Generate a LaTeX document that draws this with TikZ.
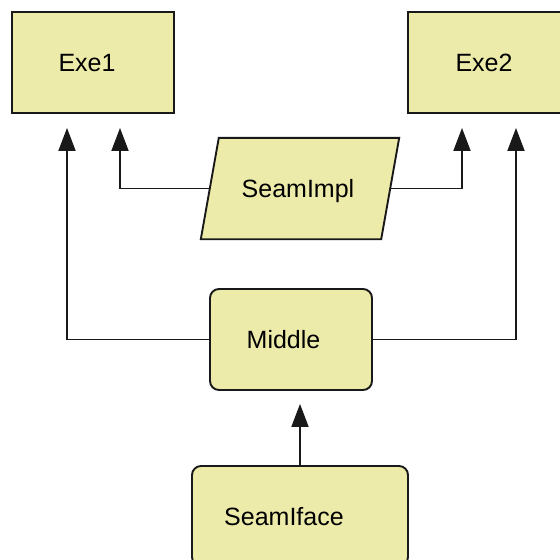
\documentclass[tikz,border=0pt]{standalone}
\usepackage{fontspec}
\setmainfont{Liberation Sans}
\usetikzlibrary{arrows.meta,backgrounds}
\definecolor{boxfill}{RGB}{237,235,170}
\definecolor{boxline}{RGB}{25,25,25}
\tikzset{
  txt/.style={inner sep=0pt, font=\fontsize{25}{29}\selectfont, text height=18pt, text depth=0pt},
  box/.style={txt, draw=boxline, fill=boxfill, line width=1.9pt},
  rbox/.style={box, rounded corners=9pt},
  parashape/.style={draw=boxline, fill=boxfill, line width=1.9pt, line join=miter},
  arr/.style={line width=1.9pt, draw=boxline, -{Triangle[length=23pt,width=17pt]}}
}
\begin{document}
\begin{tikzpicture}[x=1pt,y=-1pt]
\useasboundingbox (0,0) rectangle (560,560);
\node[box, minimum width=162pt, minimum height=101pt] (exe1) at (93,62.5) {Exe1\hspace*{12pt}};
\node[box, minimum width=162pt, minimum height=101pt] (exe2) at (489,62.5) {Exe2\hspace*{10pt}};
\node[txt, minimum width=180pt, minimum height=101pt] (impl) at (300,188.5) {SeamImpl\hspace*{4pt}};
\begin{scope}[on background layer]
\draw[parashape] ([xshift=-9pt]impl.south west) -- ([xshift=9pt]impl.north west)
  -- ([xshift=9pt]impl.north east) -- ([xshift=-9pt]impl.south east) -- cycle;
\end{scope}
\node[rbox, minimum width=162pt, minimum height=101pt] (mid) at (291,339.5) {Middle\hspace*{15pt}};
\node[rbox, minimum width=216pt, minimum height=100pt] (iface) at (300,516) {SeamIface\hspace*{32pt}};
\draw[arr, shorten >=14pt] (impl.west) -| ([xshift=27pt]exe1.south);
\draw[arr, shorten >=14pt] (impl.east) -| ([xshift=-27pt]exe2.south);
\draw[arr, shorten >=14pt] (mid.west) -| ([xshift=-26pt]exe1.south);
\draw[arr, shorten >=14pt] (mid.east) -| ([xshift=27pt]exe2.south);
\draw[arr, shorten >=13pt] (iface.north) -- (iface.north |- mid.south);
\end{tikzpicture}
\end{document}
